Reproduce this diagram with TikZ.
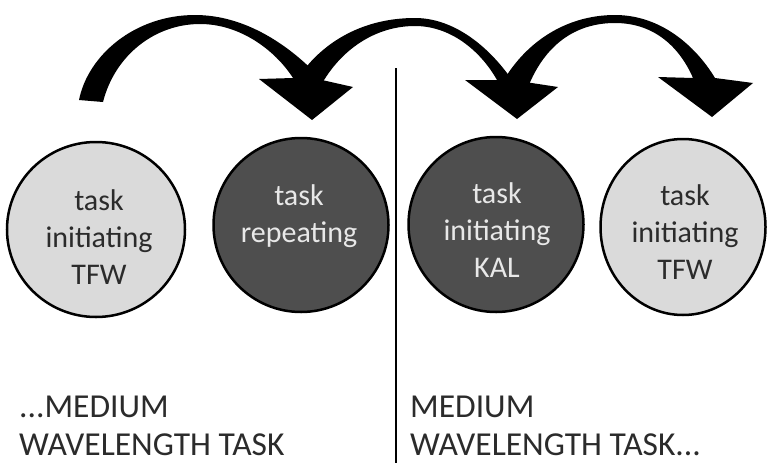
\documentclass[tikz,border=0pt]{standalone}
\usepackage{fontspec}
\setmainfont{Carlito}
\usetikzlibrary{shapes.geometric}
\definecolor{palefill}{HTML}{DADADA}
\definecolor{darkfill}{HTML}{4E4E4E}
\definecolor{paletext}{HTML}{E8E8E8}
\definecolor{inktext}{HTML}{2B2B2B}
\begin{document}
\begin{tikzpicture}[x=1pt,y=-1pt,
  bubble/.style={ellipse, draw=black, line width=2.5pt, inner sep=0pt},
  palebubble/.style={bubble, fill=palefill},
  darkbubble/.style={bubble, fill=darkfill},
  bubbletext/.style={anchor=base, inner sep=0pt, font=\fontsize{30}{37}\selectfont},
  caption/.style={anchor=base west, inner sep=0pt, text=inktext, font=\fontsize{33.5}{38}\selectfont},
  bigarrow/.style={fill=black},
  divider/.style={draw=black, line width=2pt},
]
\useasboundingbox[fill=white] (0,0) rectangle (767,463);

% curved jump arrows (each tail tucked under the previous head)
\fill[bigarrow] (505,78) .. controls (530,38) and (570,15) .. (615,15)
  .. controls (660,15) and (695,45) .. (715,78) -- (753,83) -- (712,117) -- (658,77) -- (693,78)
  .. controls (680,48) and (655,23) .. (615,23)
  .. controls (575,23) and (545,45) .. (528,87) -- cycle;
\fill[bigarrow] (300,75) .. controls (325,40) and (365,18) .. (415,18)
  .. controls (455,18) and (490,48) .. (512,80) -- (558,87) -- (517,119) -- (465,80) -- (497,80)
  .. controls (480,50) and (450,26) .. (415,26)
  .. controls (375,26) and (340,50) .. (320,87) -- cycle;
\fill[bigarrow] (79,100) .. controls (88,55) and (135,15) .. (195,15)
  .. controls (245,15) and (290,45) .. (322,80) -- (353,87) -- (312,120) -- (259,79) -- (293,78)
  .. controls (275,50) and (240,24) .. (200,24)
  .. controls (155,24) and (115,55) .. (103,102) -- cycle;

% divider between the two tasks
\coordinate (divtop) at (396,68);
\coordinate (divbot) at (396,463);
\draw[divider] (divtop) -- (divbot);

% task bubbles
\node[palebubble, minimum width=178pt, minimum height=175pt] (c1) at (96,229.5) {};
\node[darkbubble, minimum width=175pt, minimum height=174pt] (c2) at (301,225) {};
\node[darkbubble, minimum width=175pt, minimum height=175pt] (c3) at (496,224.5) {};
\node[palebubble, minimum width=165pt, minimum height=176pt] (c4) at (683,227) {};

\node[bubbletext, text=inktext] (t1) at (99,210)
  {\begin{tabular}[t]{@{}c@{}}task\\initiating\\TFW\end{tabular}};
\node[bubbletext, text=paletext] (t2) at (299,205)
  {\begin{tabular}[t]{@{}c@{}}task\\repeating\end{tabular}};
\node[bubbletext, text=paletext] (t3) at (497,203)
  {\begin{tabular}[t]{@{}c@{}}task\\initiating\\KAL\end{tabular}};
\node[bubbletext, text=inktext] (t4) at (685,205)
  {\begin{tabular}[t]{@{}c@{}}task\\initiating\\TFW\end{tabular}};

% wavelength captions
\node[caption] (capL) at (19,417)
  {\begin{tabular}[t]{@{}l@{}}...MEDIUM\\WAVELENGTH TASK\end{tabular}};
\node[caption] (capR) at (410,417)
  {\begin{tabular}[t]{@{}l@{}}MEDIUM\\WAVELENGTH TASK...\end{tabular}};
\end{tikzpicture}
\end{document}
